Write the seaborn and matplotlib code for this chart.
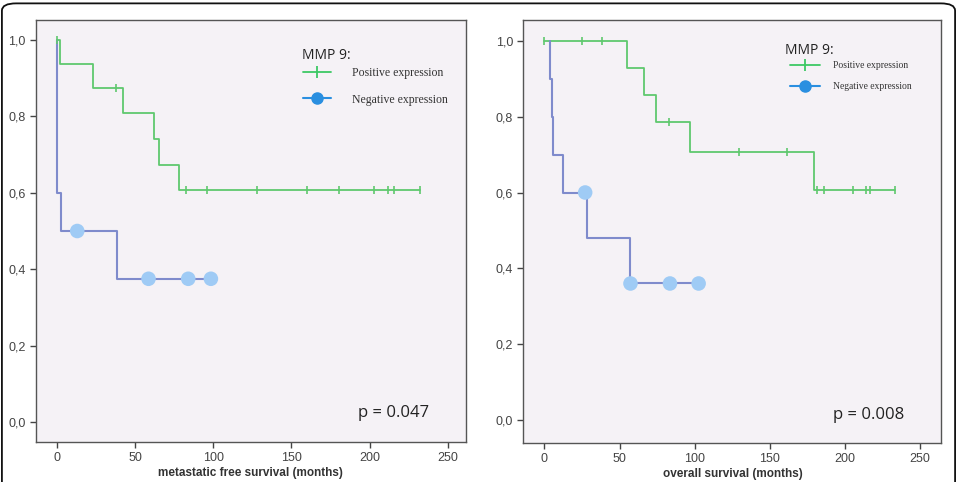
import numpy as np
import pandas as pd
import matplotlib
matplotlib.use("Agg")
import matplotlib.pyplot as plt
from matplotlib.lines import Line2D
from matplotlib.patches import FancyBboxPatch
import seaborn as sns

# ---- data ----
# metastatic free survival
mfs_pos_t = [0, 2, 23, 42, 62, 65, 78, 232]
mfs_pos_s = [1.0, 0.9375, 0.875, 0.808, 0.740, 0.673, 0.606, 0.606]
mfs_pos_cens_t = [0, 37.7, 82.5, 96, 128, 160, 180.5, 203, 212, 215.5, 232]
mfs_pos_cens_s = [1.0, 0.875, 0.606, 0.606, 0.606, 0.606, 0.606, 0.606, 0.606, 0.606, 0.606]
mfs_neg_t = [0, 0, 2.4, 38.6, 98.5]
mfs_neg_s = [1.0, 0.6, 0.5, 0.375, 0.375]
mfs_neg_cens_t = [13, 58.6, 84, 98.5]
mfs_neg_cens_s = [0.5, 0.375, 0.375, 0.375]

# overall survival
os_pos_t = [0, 55, 66, 74.4, 97, 179.6, 233.3]
os_pos_s = [1.0, 0.929, 0.857, 0.786, 0.707, 0.606, 0.606]
os_pos_cens_t = [0, 25, 38, 83, 129.3, 161.6, 181.8, 186.4, 205.3, 214, 217.1, 233.3]
os_pos_cens_s = [1.0, 1.0, 1.0, 0.786, 0.707, 0.707, 0.606, 0.606, 0.606, 0.606, 0.606, 0.606]
os_neg_t = [4, 4, 4.9, 5.8, 12.4, 28.4, 57.3, 102.7]
os_neg_s = [1.0, 0.9, 0.8, 0.7, 0.6, 0.48, 0.36, 0.36]
os_neg_cens_t = [27.1, 57.3, 83.6, 102.7]
os_neg_cens_s = [0.6, 0.36, 0.36, 0.36]

xticks = [0, 50, 100, 150, 200, 250]
yticks = [0.0, 0.2, 0.4, 0.6, 0.8, 1.0]
ytick_labels = ["0,0", "0,2", "0,4", "0,6", "0,8", "1,0"]
legend_labels = ["Positive expression", "Negative expression"]

green = "#5fc86e"
blue_line = "#7f8bcc"
blue_dot = "#9fcbf5"
leg_green = "#3cc864"
leg_blue = "#2a8fe0"

sns.set_style("ticks")
plt.rcParams["font.family"] = ["Liberation Sans", "DejaVu Sans"]

fig = plt.figure(figsize=(9.57, 4.82), dpi=100)
ax1 = fig.add_axes([0.0376, 0.083, 0.449, 0.8755])
ax2 = fig.add_axes([0.547, 0.0815, 0.4366, 0.877])


def km_panel(ax, pos_t, pos_s, pc_t, pc_s, neg_t, neg_s, nc_t, nc_s,
             xlabel, xlim, ylim, pval, leg_cfg):
    ax.set_facecolor("#f5f2f6")
    pos = pd.DataFrame({"t": pos_t, "s": pos_s})
    neg = pd.DataFrame({"t": neg_t, "s": neg_s})
    sns.lineplot(data=pos, x="t", y="s", ax=ax, color=green, lw=1.3,
                 drawstyle="steps-post", estimator=None, sort=False)
    sns.lineplot(data=neg, x="t", y="s", ax=ax, color=blue_line, lw=1.5,
                 drawstyle="steps-post", estimator=None, sort=False)
    sns.scatterplot(x=pc_t, y=pc_s, ax=ax, marker="|", s=40, color=green,
                    linewidth=1.2, zorder=3)
    sns.scatterplot(x=nc_t, y=nc_s, ax=ax, marker="o", s=110, color=blue_dot,
                    edgecolor="none", zorder=3)

    ax.set_xlim(*xlim)
    ax.set_ylim(*ylim)
    ax.set_xticks(xticks)
    ax.set_yticks(yticks)
    ax.set_yticklabels(ytick_labels)
    ax.tick_params(labelsize=9, colors="#444444", length=4, width=1)
    for sp in ax.spines.values():
        sp.set_visible(True)
        sp.set_color("#555555")
        sp.set_linewidth(1.0)
    ax.set_xlabel(xlabel, fontsize=8.5, fontweight="bold", color="#333333",
                  labelpad=2)
    ax.set_ylabel("")
    ax.text(pval[1], pval[2], pval[0], transform=ax.transAxes,
            ha="right", va="center", fontsize=12, color="#222222",
            family=["Open Sans", "DejaVu Sans"])

    # legend title drawn on its own, then the legend rows below it
    ax.text(leg_cfg["title"][0], leg_cfg["title"][1], "MMP 9:",
            transform=ax.transAxes, ha="left", va="center", fontsize=10,
            color="#222222", family=["Open Sans", "DejaVu Sans"])
    handles = [Line2D([0], [0], color=leg_green, lw=1.3, marker="|",
                      markersize=9, markeredgewidth=1.3),
               Line2D([0], [0], color=leg_blue, lw=1.5, marker="o",
                      markersize=8)]
    leg = ax.legend(handles, legend_labels, loc="upper left",
                    bbox_to_anchor=leg_cfg["anchor"], frameon=False,
                    prop={"family": "Liberation Serif", "size": leg_cfg["size"]},
                    handlelength=leg_cfg["hl"], handletextpad=leg_cfg["htp"],
                    labelspacing=leg_cfg["ls"], borderpad=0)
    for t in leg.get_texts():
        t.set_color("#333333")


km_panel(ax1, mfs_pos_t, mfs_pos_s, mfs_pos_cens_t, mfs_pos_cens_s,
         mfs_neg_t, mfs_neg_s, mfs_neg_cens_t, mfs_neg_cens_s,
         "metastatic free survival (months)", (-13.4, 261.5), (-0.052, 1.052),
         ("p = 0.047", 0.914, 0.069),
         {"title": (0.619, 0.917), "anchor": (0.607, 0.903), "size": 8.5,
          "hl": 2.4, "htp": 1.8, "ls": 1.25})
km_panel(ax2, os_pos_t, os_pos_s, os_pos_cens_t, os_pos_cens_s,
         os_neg_t, os_neg_s, os_neg_cens_t, os_neg_cens_s,
         "overall survival (months)", (-14, 264.4), (-0.06, 1.055),
         ("p = 0.008", 0.911, 0.066),
         {"title": (0.626, 0.929), "anchor": (0.626, 0.914), "size": 6.9,
          "hl": 3.1, "htp": 1.4, "ls": 1.25})

# page frame around the figure
frame = FancyBboxPatch((0.002, -0.2), 0.996, 1.193,
                       boxstyle="round,pad=0,rounding_size=0.015",
                       transform=fig.transFigure, fill=False,
                       edgecolor="#111111", lw=1.3, clip_on=False)
fig.patches.append(frame)

fig.savefig("out.png", dpi=100)
